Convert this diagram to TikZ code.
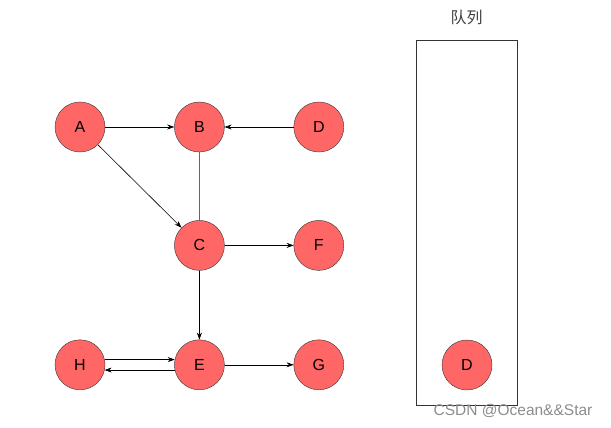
\documentclass[tikz,border=0pt]{standalone}
\usepackage{fontspec}
\setmainfont{Liberation Sans}
\newfontfamily\cjk{Noto Sans CJK SC}
\usepackage{xcolor}
\usetikzlibrary{arrows.meta,positioning}

\definecolor{vfill}{HTML}{FF6666}
\definecolor{vline}{HTML}{333333}

\begin{document}
\begin{tikzpicture}[
    x=1pt, y=-1pt,
    node distance=69pt,
    vertex/.style={circle, draw=vline, fill=vfill, minimum size=50pt, inner sep=0pt, font=\fontsize{16}{16}\selectfont},
    arrow/.style={-{Stealth[length=7pt,width=5pt]}, draw=black, line width=0.6pt},
    plain/.style={draw=black!60, line width=1.4pt}
]
\useasboundingbox (0,0) rectangle (611,428);

% graph
\node[vertex] (a) at (80,127) {A};
\node[vertex, right=of a] (b) {B};
\node[vertex, right=of b] (d) {D};
\node[vertex, below=68pt of b] (c) {C};
\node[vertex, right=of c] (f) {F};
\node[vertex, below=69pt of c] (e) {E};
\node[vertex, left=of e] (h) {H};
\node[vertex, right=of e] (g) {G};

\draw[arrow] (a) -- (b);
\draw[arrow] (d) -- (b);
\draw[arrow] (a) -- (c);
\draw[plain] (b) -- (c);
\draw[arrow] (c) -- (f);
\draw[arrow] (c) -- (e);
\draw[arrow] (h.12) -- (e.168);
\draw[arrow] (e.192) -- (h.-12);
\draw[arrow] (e) -- (g);

% queue
\node[draw=vline, line width=0.8pt, minimum width=101pt, minimum height=365pt, inner sep=0pt] (queue) at (466.5,222.5) {};
\node[font=\cjk\fontsize{16}{16}\selectfont, text=black!75, above=11pt of queue] (qlabel) {队列};
\node[vertex] (qd) at (467,365) {D};

\node[font=\fontsize{15.5}{15.5}\selectfont, text=black!45] (mark) at (513,411) {CSDN @Ocean\&\&Star};
\end{tikzpicture}
\end{document}
